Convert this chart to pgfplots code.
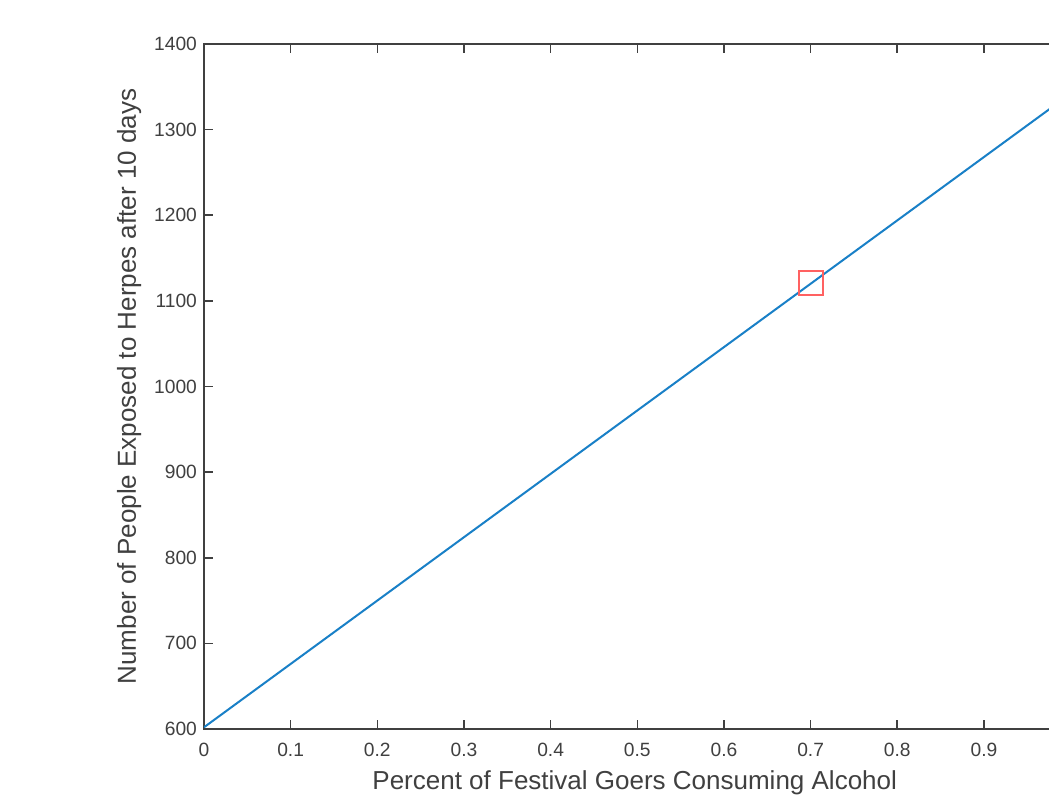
\documentclass[border=0pt]{standalone}
\usepackage{pgfplots}
\pgfplotsset{compat=1.18}
\usepackage{fontspec}
\setmainfont{Liberation Sans}
\definecolor{mblue}{rgb}{0.1,0.5,0.78}
\definecolor{axgray}{rgb}{0.25,0.25,0.25}
\definecolor{mred}{rgb}{1,0.38,0.38}
\begin{document}
\begin{tikzpicture}
\path[use as bounding box, clip] (-102pt,-37pt) rectangle (422.5pt,364.5pt);
\fill[white] (-102pt,-37pt) rectangle (422.5pt,364.5pt);
\begin{axis}[
  scale only axis,
  width=433.3pt, height=342.5pt,
  at={(0,0)}, anchor=south west,
  xmin=0, xmax=1, ymin=600, ymax=1400,
  xtick={0,0.1,...,0.9}, ytick={600,700,...,1400},
  xticklabels={0,0.1,0.2,0.3,0.4,0.5,0.6,0.7,0.8,0.9},
  yticklabels={600,700,800,900,1000,1100,1200,1300,1400},
  tick align=inside,
  major tick length=4.5pt,
  axis line style={axgray, line width=0.8pt},
  tick style={axgray, line width=0.8pt},
  ticklabel style={font=\fontsize{9.6}{11}\selectfont, text=axgray},
  xticklabel style={yshift=-3.5pt},
  yticklabel style={xshift=0pt},
  xlabel={Percent of Festival Goers Consuming Alcohol},
  ylabel={Number of People Exposed to Herpes after 10 days},
  label style={font=\fontsize{13}{15}\selectfont, text=axgray},
  xlabel style={at={(axis description cs:0.497,-0.089)}, anchor=base},
  ylabel style={at={(axis description cs:-0.0785,0.5)}, anchor=base},
]
\addplot[mblue, line width=1pt] coordinates {(0,602) (0.5,972) (0.7,1120) (1,1342)};
\addplot[only marks, mark=square, mark size=6pt, mark options={draw=mred, line width=1.1pt}] coordinates {(0.7,1121)};
\end{axis}
\end{tikzpicture}
\end{document}
